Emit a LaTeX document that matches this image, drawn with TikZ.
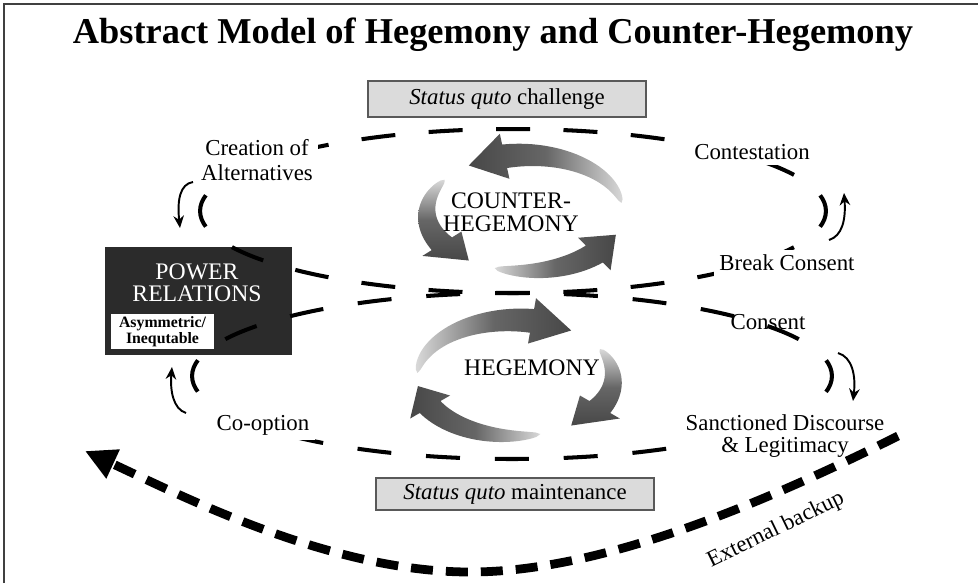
\documentclass[tikz,border=0pt]{standalone}
\usepackage{fontspec}
\setmainfont{Liberation Serif}
\usetikzlibrary{arrows.meta}

\definecolor{ardark}{gray}{0.28}
\definecolor{armid}{gray}{0.40}
\definecolor{arlight}{gray}{0.85}
\definecolor{powerbg}{gray}{0.17}

\tikzset{
  dashring/.style={line width=2.3pt, dash pattern=on 0.68cm off #1, dash phase=0.34cm},
  lbl/.style={font=\fontsize{13}{14}\selectfont, fill=white, inner sep=3pt, align=center},
  quobox/.style={draw=black!65, line width=0.8pt, fill=black!14, minimum width=5.56cm, font=\fontsize{13}{14}\selectfont},
  powerbox/.style={fill=powerbg, minimum width=3.74cm, minimum height=2.16cm, inner sep=0pt},
  ringtxt/.style={font=\fontsize{13.5}{13}\selectfont, align=center},
  smallarr/.style={line width=1.1pt, -{Stealth[length=7pt,width=6pt]}},
  backup/.style={line width=5pt, dash pattern=on 0.44cm off 0.26cm, -{Triangle[length=0.62cm,width=0.6cm]}}
}

% fat curved arrow on an elliptic ring
% #1,#2 centre, #3 tail angle, #4 head base angle, #5 tip angle, #6 shading
\newcommand{\ringarrow}[6]{%
  \shade[#6, middle color=armid]
    plot[domain=#3:#4, samples=30, variable=\t]
      ({#1+(\rrx+\sw*sqrt(abs((\t-(#3))/(#4-(#3)))))*cos(\t)}, {#2+(\rry+\sw*sqrt(abs((\t-(#3))/(#4-(#3)))))*sin(\t)})
    -- ({#1+(\rrx+\hw)*cos(#4)}, {#2+(\rry+\hw)*sin(#4)})
    -- ({#1+\rrx*cos(#5)}, {#2+\rry*sin(#5)})
    -- ({#1+(\rrx-\hw)*cos(#4)}, {#2+(\rry-\hw)*sin(#4)})
    -- plot[domain=#4:#3, samples=30, variable=\t]
      ({#1+(\rrx-\sw*sqrt(abs((\t-(#3))/(#4-(#3)))))*cos(\t)}, {#2+(\rry-\sw*sqrt(abs((\t-(#3))/(#4-(#3)))))*sin(\t)})
    -- cycle;}

\begin{document}
\begin{tikzpicture}[x=0.02cm, y=-0.02cm]
  \useasboundingbox (0,0) rectangle (978,583);

  % Frame
  \draw[line width=1.1pt, black!75] (4,583) -- (4,4) -- (978,4);

  % Title
  \node[font=\bfseries\fontsize{20.7}{24}\selectfont] (title) at (493,35) {Abstract Model of Hegemony and Counter-Hegemony};

  % Status quo boxes
  \node[quobox, minimum height=0.72cm] (challenge) at (507,99) {\textit{Status quto} challenge};
  \node[quobox, minimum height=0.64cm] (maintain) at (515,494) {\textit{Status quto} maintenance};

  % Power relations
  \node[powerbox] (power) at (198.5,301) {};

  % Dashed rings
  \draw[dashring=0.6695cm] (513,211) ellipse [x radius=6.26cm, y radius=1.64cm];
  \draw[dashring=0.698cm] (512,376) ellipse [x radius=6.4cm, y radius=1.66cm];

  \node[font=\fontsize{13.5}{12.5}\selectfont, text=white, align=center] (powertxt) at (197,283) {POWER\\RELATIONS};
  \node[fill=white, minimum width=2.06cm, minimum height=0.7cm, inner sep=0pt,
        font=\bfseries\fontsize{9}{8.8}\selectfont, align=center] (powerdesc) at (162.5,331.5) {Asymmetric/\\Inequtable};

  % Labels
  \node[lbl, font=\fontsize{13}{14.2}\selectfont] (creation) at (257,160) {Creation of\\Alternatives};
  \node[lbl] (contest) at (752,152) {Contestation};
  \node[lbl] (breakc) at (787,263) {Break Consent};
  \node[lbl, fill=none] (consent) at (768,322) {Consent};
  \node[lbl, font=\fontsize{13}{13}\selectfont] (sanction) at (785,436) {Sanctioned Discourse\\\& Legitimacy};
  \node[lbl] (coopt) at (263,425) {Co-option};

  % Counter-hegemony cycle
  \def\rrx{98}\def\rry{58}\def\sw{12}\def\hw{23}
  \ringarrow{525}{213}{350}{258}{235}{left color=ardark, right color=arlight}
  \ringarrow{525}{213}{215}{148}{125}{top color=arlight, bottom color=ardark}
  \ringarrow{525}{213}{108}{45}{22}{left color=arlight, right color=ardark}
  \node[ringtxt] (counterlbl) at (511,212) {COUNTER-\\HEGEMONY};

  % Hegemony cycle
  \ringarrow{515}{378}{185}{280}{305}{left color=arlight, right color=ardark}
  \ringarrow{515}{378}{-30}{30}{55}{top color=arlight, bottom color=ardark}
  \ringarrow{515}{378}{75}{150}{172}{left color=ardark, right color=arlight}
  \node[ringtxt] (hegemlbl) at (532,368) {HEGEMONY};

  % Small turning arrows
  \coordinate (creaS) at (193,182); \coordinate (creaE) at (180,228);
  \draw[smallarr] (creaS) .. controls (180,184) and (177,200) .. (creaE);
  \coordinate (coopS) at (186,413); \coordinate (coopE) at (172,367);
  \draw[smallarr] (coopS) .. controls (173,409) and (170,390) .. (coopE);
  \coordinate (contS) at (829,240); \coordinate (contE) at (844,193);
  \draw[smallarr] (contS) .. controls (842,236) and (846,220) .. (contE);
  \coordinate (sancS) at (838,353); \coordinate (sancE) at (853,401);
  \draw[smallarr] (sancS) .. controls (852,357) and (856,375) .. (sancE);

  % External backup
  \coordinate (extS) at (898,436); \coordinate (extB) at (470,572); \coordinate (extE) at (85,451);
  \draw[backup] (extS) .. controls (760,505) and (600,572) .. (extB)
                .. controls (330,572) and (180,495) .. (extE);
  \node[font=\fontsize{13}{14}\selectfont, rotate=26] (extlbl) at (776,530) {External backup};
\end{tikzpicture}
\end{document}
